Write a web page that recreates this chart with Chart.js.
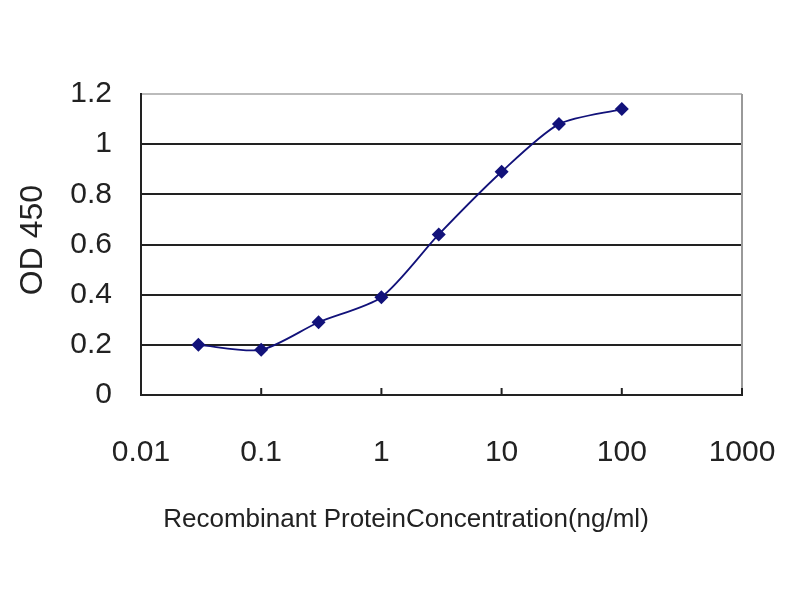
<!DOCTYPE html>
<html>
<head>
<meta charset="utf-8">
<script src="https://cdn.jsdelivr.net/npm/chart.js@4"></script>
<style>
  html, body { margin: 0; padding: 0; background: #fff; }
  #wrap { width: 800px; height: 600px; position: relative; }
</style>
</head>
<body>
<div id="wrap"><canvas id="odChart" width="800" height="600"></canvas></div>
<script>
// concentrations (ng/ml) and OD readings
const concentrations = [0.03, 0.1, 0.3, 1, 3, 10, 30, 100];
const odValues = [0.20, 0.18, 0.29, 0.39, 0.64, 0.89, 1.08, 1.14];
const xTicks = [0.01, 0.1, 1, 10, 100, 1000];
const xTickLabels = ['0.01', '0.1', '1', '10', '100', '1000'];
const yTicks = [0, 0.2, 0.4, 0.6, 0.8, 1, 1.2];
const yTickLabels = ['0', '0.2', '0.4', '0.6', '0.8', '1', '1.2'];
const xTitle = 'Recombinant ProteinConcentration(ng/ml)';
const yTitle = 'OD 450';

const navy = '#12127a';
const tickFont = { family: 'Liberation Sans, Arial, sans-serif', size: 30 };

// frame, inner tick marks and axis titles
const extras = {
  id: 'extras',
  afterDatasetsDraw(chart) {
    const { ctx, chartArea: a, scales: { x } } = chart;
    ctx.save();
    ctx.strokeStyle = '#999';
    ctx.lineWidth = 2;
    ctx.beginPath();
    ctx.moveTo(a.right, a.top);
    ctx.lineTo(a.right, a.bottom);
    ctx.stroke();
    ctx.strokeStyle = '#222';
    ctx.beginPath();
    xTicks.forEach(v => {
      const px = x.getPixelForValue(v);
      ctx.moveTo(px, a.bottom);
      ctx.lineTo(px, a.bottom - 7);
    });
    ctx.stroke();
    ctx.fillStyle = '#222';
    ctx.font = '26px "Liberation Sans", Arial, sans-serif';
    ctx.textAlign = 'center';
    ctx.textBaseline = 'middle';
    ctx.fillText(xTitle, 406, 520);
    ctx.translate(33, 240);
    ctx.rotate(-Math.PI / 2);
    ctx.font = '32px "Liberation Sans", Arial, sans-serif';
    ctx.fillText(yTitle, 0, 0);
    ctx.restore();
  }
};

new Chart(document.getElementById('odChart').getContext('2d'), {
  type: 'line',
  data: {
    datasets: [{
      data: concentrations.map((c, i) => ({ x: c, y: odValues[i] })),
      borderColor: navy,
      backgroundColor: navy,
      borderWidth: 1.8,
      tension: 0.25,
      pointStyle: 'rectRot',
      pointRadius: 7,
      pointBorderWidth: 0,
      fill: false
    }]
  },
  options: {
    responsive: false,
    animation: false,
    layout: { padding: { top: 94, right: 58, left: 0, bottom: 0 } },
    plugins: { legend: { display: false }, tooltip: { enabled: false } },
    scales: {
      x: {
        type: 'logarithmic',
        min: 0.01,
        max: 1000,
        afterBuildTicks: s => { s.ticks = xTicks.map(v => ({ value: v })); },
        afterFit: s => { s.height = 205; s.paddingLeft = 0; s.paddingRight = 0; },
        grid: { drawOnChartArea: false, drawTicks: false },
        border: { color: '#222', width: 2 },
        ticks: {
          padding: 40,
          color: '#222',
          font: tickFont,
          maxRotation: 0,
          autoSkip: false,
          callback: (v, i) => xTickLabels[i]
        }
      },
      y: {
        min: 0,
        max: 1.2,
        afterBuildTicks: s => { s.ticks = yTicks.map(v => ({ value: v })); },
        afterFit: s => { s.width = 141; s.paddingTop = 0; s.paddingBottom = 0; },
        grid: {
          drawTicks: false,
          lineWidth: 2,
          color: c => (c.tick && c.tick.value === 1.2 ? '#bbb' : '#222')
        },
        border: { color: '#222', width: 2 },
        ticks: {
          padding: 29,
          color: '#222',
          font: tickFont,
          callback: (v, i) => yTickLabels[i]
        }
      }
    }
  },
  plugins: [extras]
});
</script>
</body>
</html>
